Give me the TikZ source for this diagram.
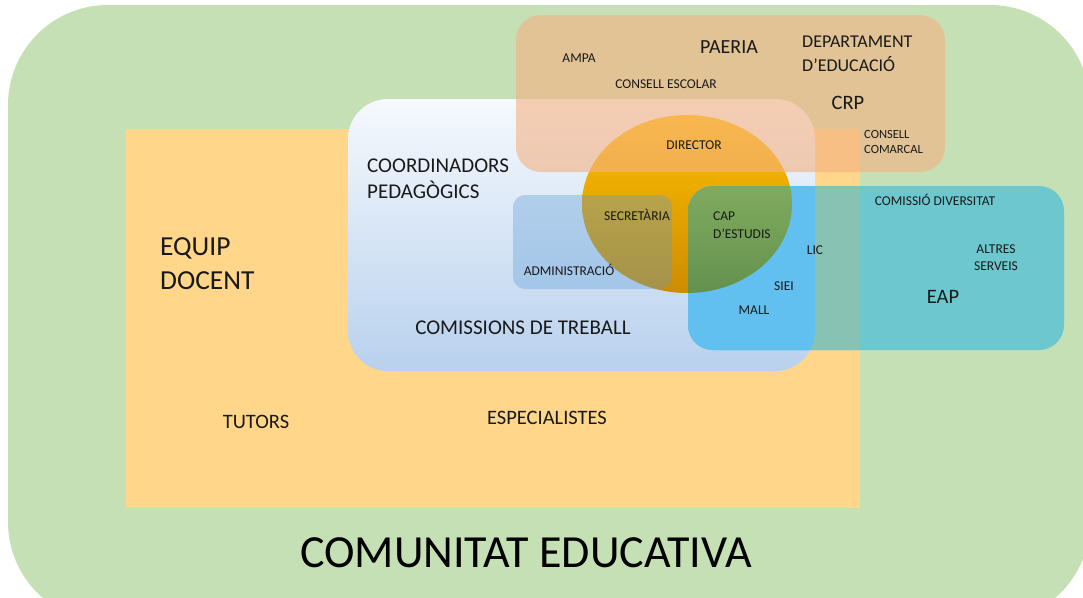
\documentclass[tikz,border=0pt]{standalone}
\usepackage{fontspec}
\setmainfont{Carlito}
\definecolor{cgreen}{RGB}{197,224,180}
\definecolor{corange}{RGB}{255,214,138}
\definecolor{cbrown}{RGB}{244,177,131}
\definecolor{cbluetop}{RGB}{246,249,253}
\definecolor{cbluebot}{RGB}{184,209,238}
\definecolor{ccirc}{RGB}{255,192,0}
\definecolor{ccircdark}{RGB}{205,140,0}
\definecolor{cadmin}{RGB}{91,155,213}
\definecolor{cteal}{RGB}{108,200,206}
\definecolor{ctealor}{RGB}{136,194,178}
\definecolor{ctealbl}{RGB}{98,192,240}
\definecolor{cgreentop}{RGB}{145,187,105}
\definecolor{cgreenbot}{RGB}{100,145,78}
\definecolor{ctext}{RGB}{25,25,25}
\begin{document}
\begin{tikzpicture}[x=1pt,y=-1pt,
  lbl/.style={inner sep=0pt,text=ctext},
  small/.style={lbl,font=\fontsize{13.5}{16}\selectfont},
  mid/.style={lbl,font=\fontsize{18}{24}\selectfont},
  big/.style={lbl,font=\fontsize{21}{26}\selectfont},
  huge/.style={lbl,font=\fontsize{27.5}{34}\selectfont},
  title/.style={inner sep=0pt,text=black,font=\fontsize{46}{50}\selectfont}]
\useasboundingbox (0,0) rectangle (1083,597);
\fill[white] (0,0) rectangle (1083,597);
\begin{scope}
  \clip (0,0) rectangle (1083,597);
  \fill[cgreen, rounded corners=100pt] (8,5) rectangle (1090,622);
\end{scope}
% equip docent
\fill[corange] (126,129) rectangle (860,508);
% coordinadors box
\shade[top color=cbluetop, bottom color=cbluebot, rounded corners=40pt] (348,99) rectangle (815,371);
% director circle
\shade[top color=ccirc, middle color=ccirc, bottom color=ccircdark] (687,204) ellipse [x radius=105pt, y radius=89pt];
% administracio
\fill[cadmin, opacity=0.35, rounded corners=12pt] (513,195) rectangle (672,289);
% EAP box
\fill[cteal, rounded corners=25pt] (688,186) rectangle (1064,350);
\begin{scope}
  \clip (126,129) rectangle (860,508);
  \fill[ctealor, rounded corners=25pt] (688,186) rectangle (1064,350);
\end{scope}
\begin{scope}
  \clip[rounded corners=40pt] (348,99) rectangle (815,371);
  \fill[ctealbl, rounded corners=25pt] (688,186) rectangle (1064,350);
\end{scope}
\begin{scope}
  \clip[rounded corners=25pt] (688,186) rectangle (1064,350);
  \shade[top color=cgreentop, bottom color=cgreenbot] (687,204) ellipse [x radius=105pt, y radius=89pt];
\end{scope}
% top box
\fill[cbrown, opacity=0.6, rounded corners=25pt] (516,15) rectangle (945,172);
% texts
\node[small] (ampa) at (579,58) {AMPA};
\node[big, font=\fontsize{20}{24}\selectfont] (paeria) at (729,47) {PAERIA};
\node[mid, align=left, anchor=west] (dept) at (802,54) {DEPARTAMENT\\D’EDUCACIÓ};
\node[small] (consesc) at (666,84) {CONSELL ESCOLAR};
\node[big, font=\fontsize{20.5}{24}\selectfont] (crp) at (848,103) {CRP};
\node[small] (director) at (694,145) {DIRECTOR};
\node[small, align=left, anchor=west, font=\fontsize{12.5}{15}\selectfont] (conscom) at (864,142) {CONSELL\\COMARCAL};
\node[big, align=left, anchor=west] (coord) at (367,179) {COORDINADORS\\PEDAGÒGICS};
\node[small] (secr) at (637,215) {SECRETÀRIA};
\node[small, align=left, anchor=west, font=\fontsize{13.5}{18}\selectfont] (cap) at (713,225) {CAP\\D’ESTUDIS};
\node[small] (admin) at (569,270) {ADMINISTRACIÓ};
\node[small] (lic) at (815,250) {LIC};
\node[small] (siei) at (784,286) {SIEI};
\node[small] (mall) at (754,310) {MALL};
\node[small] (comdiv) at (935,200) {COMISSIÓ DIVERSITAT};
\node[small, align=center, font=\fontsize{13.5}{17}\selectfont] (altres) at (996,258) {ALTRES\\SERVEIS};
\node[big, font=\fontsize{20.5}{24}\selectfont] (eap) at (943,297) {EAP};
\node[huge, align=left, anchor=west] (equip) at (160,264) {EQUIP\\DOCENT};
\node[big] (comtreb) at (523,328) {COMISSIONS DE TREBALL};
\node[big, font=\fontsize{20.5}{24}\selectfont] (tutors) at (256,422) {TUTORS};
\node[big, font=\fontsize{20.5}{24}\selectfont] (espec) at (547,418) {ESPECIALISTES};
\node[title] (comunitat) at (526,553) {COMUNITAT EDUCATIVA};
\end{tikzpicture}
\end{document}
